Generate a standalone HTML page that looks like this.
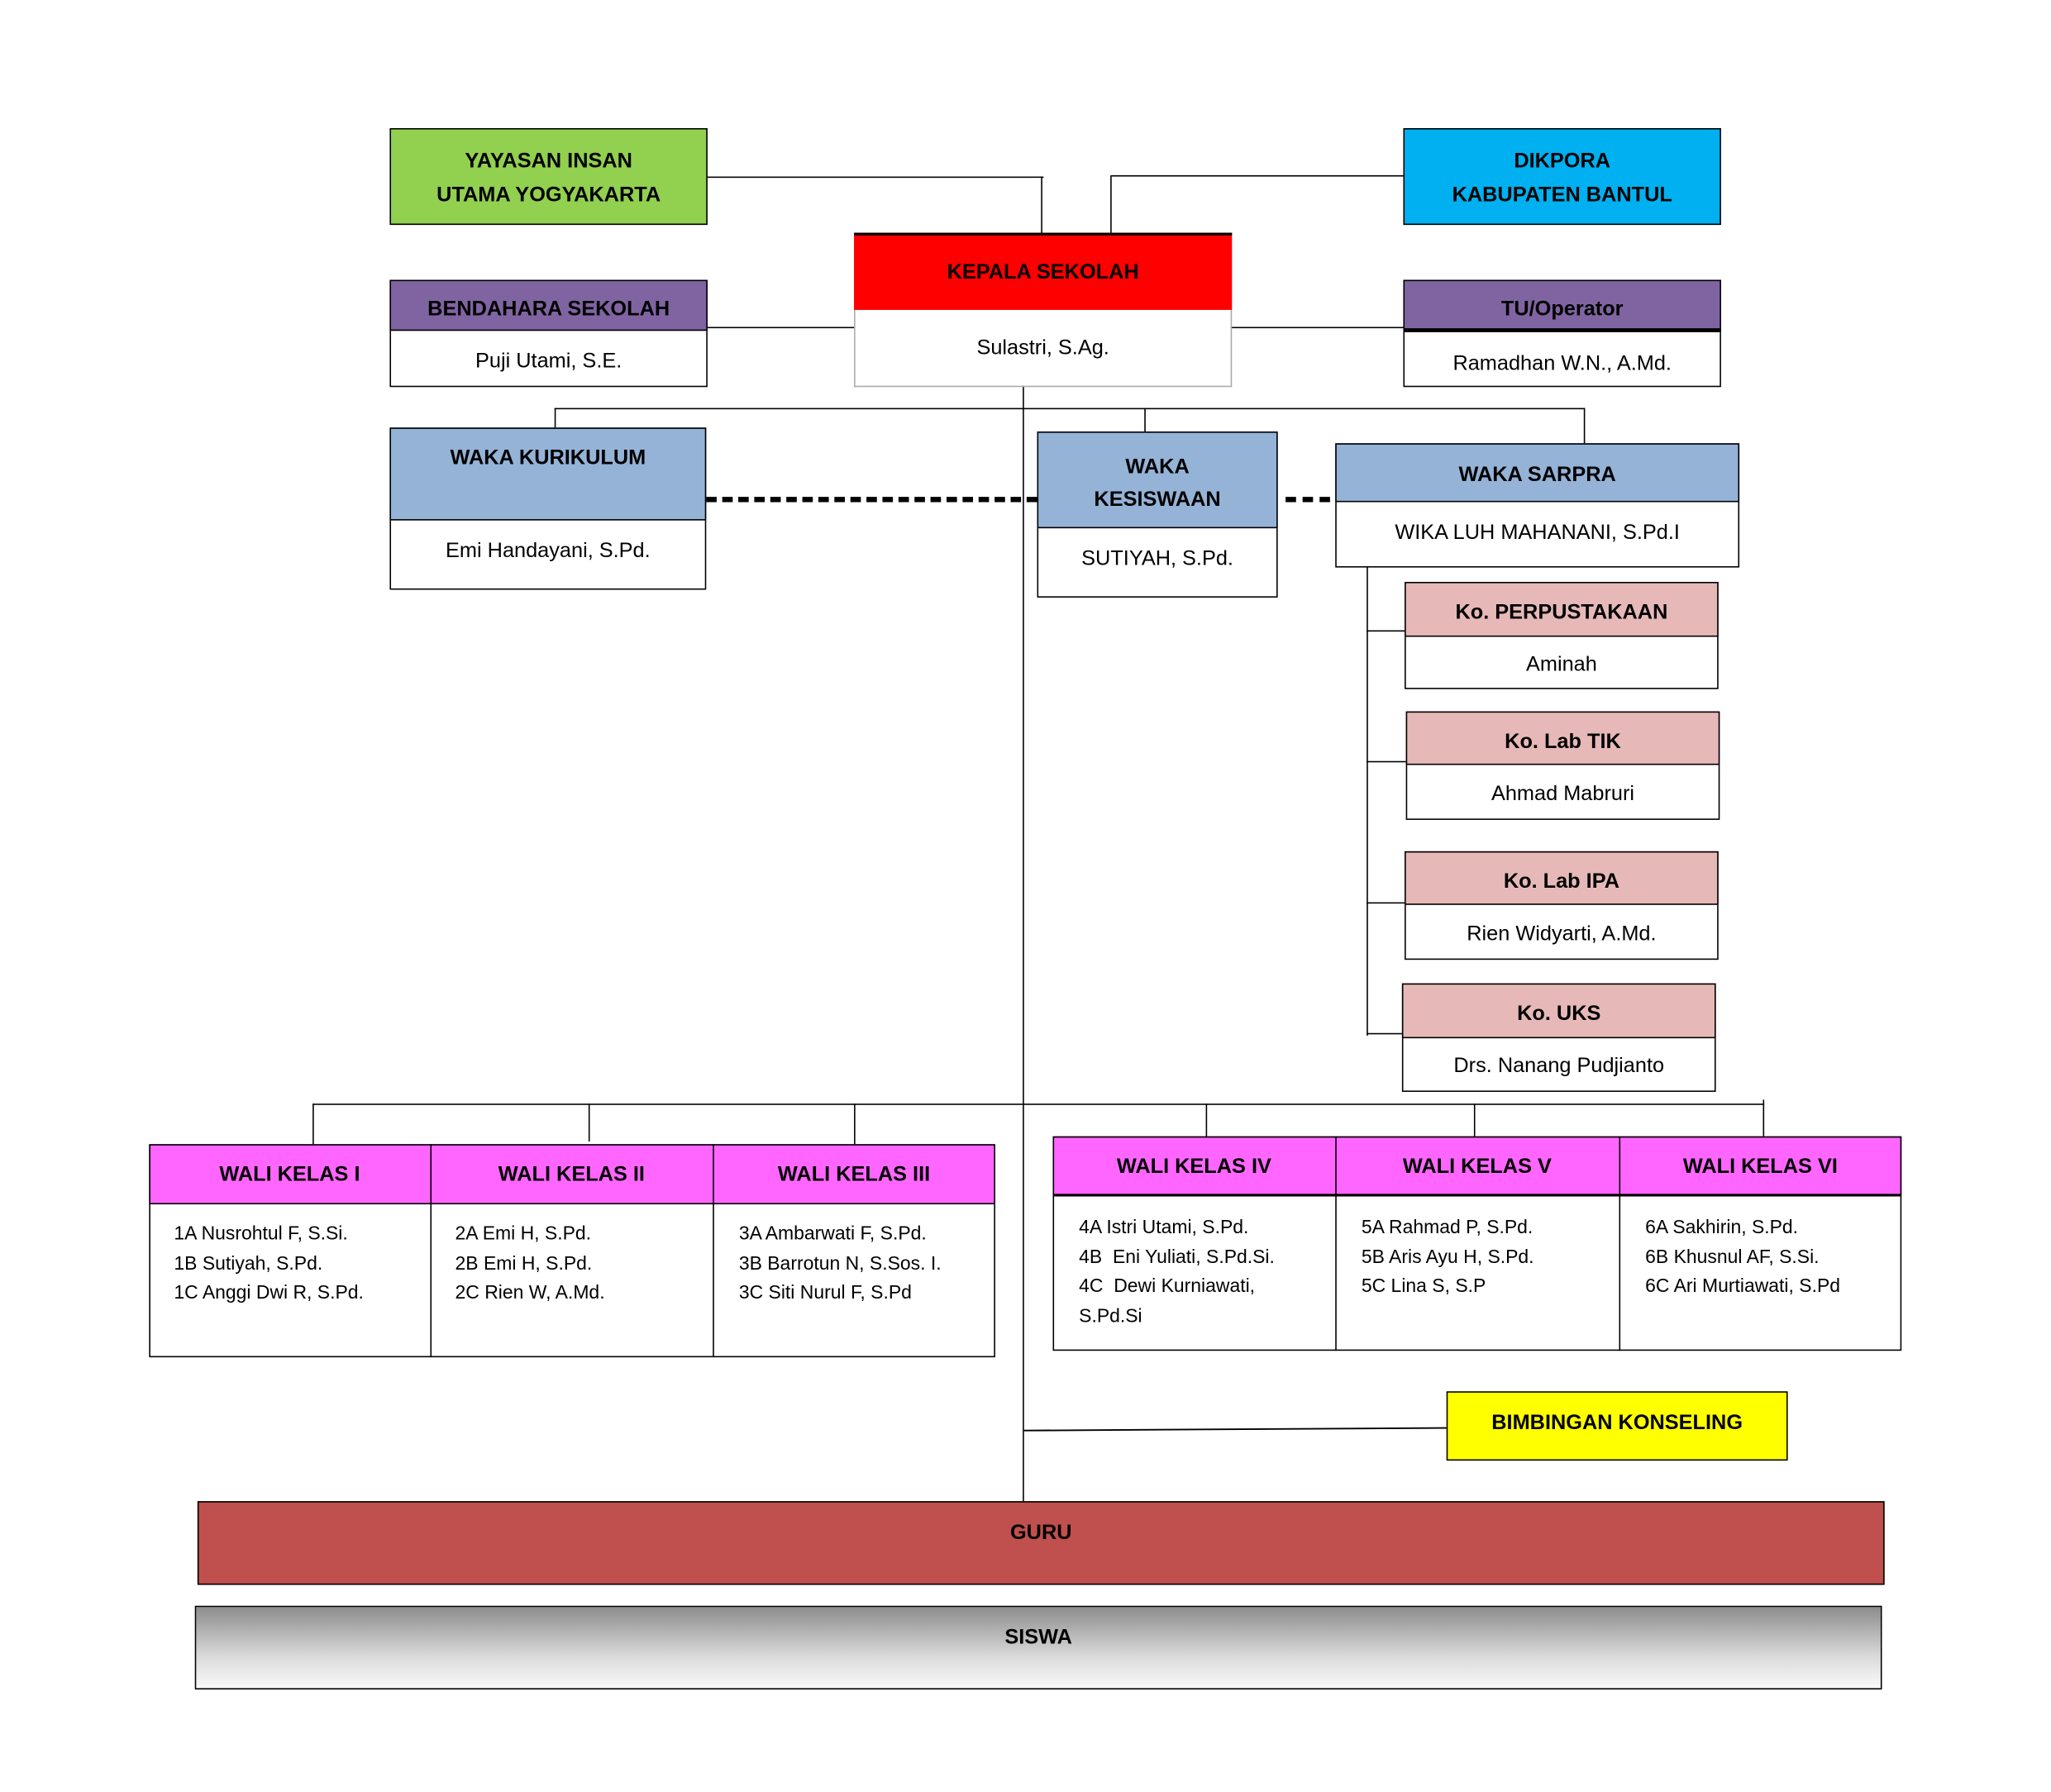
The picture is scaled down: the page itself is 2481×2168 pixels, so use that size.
<!DOCTYPE html>
<html><head><meta charset="utf-8"><style>
html,body{margin:0;padding:0;background:#fff;}
body{width:2481px;height:2168px;overflow:hidden;position:relative;}
#c{position:absolute;left:0;top:0;width:1570px;height:1370px;transform:scale(1.582);transform-origin:0 0;font-family:"Liberation Sans",sans-serif;}
.b{position:absolute;box-sizing:border-box;border:1.2px solid #000;}
.t{position:absolute;left:0;right:0;text-align:center;font-size:16px;color:#000;margin-top:2px;}
.bd{font-weight:bold;}
.l{position:absolute;background:#000;}
.wb{position:absolute;font-size:14.5px;line-height:22.5px;margin-top:2px;}
</style></head><body><div id="c">
<div class="l" style="left:540px;top:135px;width:258px;height:1.2px"></div>
<div class="l" style="left:796px;top:135px;width:1.2px;height:43px"></div>
<div class="l" style="left:850px;top:134px;width:223px;height:1.2px"></div>
<div class="l" style="left:849px;top:134px;width:1.2px;height:44px"></div>
<div class="l" style="left:541px;top:250px;width:112px;height:1.2px"></div>
<div class="l" style="left:941px;top:250px;width:132px;height:1.2px"></div>
<div class="l" style="left:782px;top:295px;width:1.2px;height:853px"></div>
<div class="l" style="left:424px;top:312px;width:788px;height:1.2px"></div>
<div class="l" style="left:424px;top:312px;width:1.2px;height:15px"></div>
<div class="l" style="left:875px;top:312px;width:1.2px;height:18px"></div>
<div class="l" style="left:1211px;top:312px;width:1.2px;height:27px"></div>
<div style="position:absolute;left:540px;top:380px;width:253px;border-top:4px dashed #000"></div>
<div style="position:absolute;left:983px;top:380px;width:34px;border-top:4px dashed #000"></div>
<div class="l" style="left:1045px;top:433px;width:1.2px;height:359px"></div>
<div class="l" style="left:1045px;top:482px;width:29px;height:1.2px"></div>
<div class="l" style="left:1045px;top:582px;width:30px;height:1.2px"></div>
<div class="l" style="left:1045px;top:690px;width:29px;height:1.2px"></div>
<div class="l" style="left:1045px;top:790px;width:27px;height:1.2px"></div>
<div class="l" style="left:239px;top:844px;width:1110px;height:1.2px"></div>
<div class="l" style="left:239px;top:844px;width:1.2px;height:31px"></div>
<div class="l" style="left:450px;top:844px;width:1.2px;height:29px"></div>
<div class="l" style="left:653px;top:844px;width:1.2px;height:31px"></div>
<div class="l" style="left:922px;top:844px;width:1.2px;height:25px"></div>
<div class="l" style="left:1127px;top:844px;width:1.2px;height:25px"></div>
<div class="l" style="left:1348px;top:841px;width:1.2px;height:28px"></div>
<svg style="position:absolute;left:0;top:0" width="1553" height="1357"><line x1="783" y1="1094" x2="1106" y2="1092" stroke="#000" stroke-width="1.2"/></svg>

<div class="b" style="left:298px;top:98px;width:243px;height:74px;background:#92d050"><div class="t bd" style="top:10px;line-height:26px">YAYASAN INSAN<br>UTAMA YOGYAKARTA</div></div>
<div class="b" style="left:1073px;top:98px;width:243px;height:74px;background:#00b0f0"><div class="t bd" style="top:10px;line-height:26px">DIKPORA<br>KABUPATEN BANTUL</div></div>
<div class="b" style="left:653px;top:178px;width:289px;height:118px;border-color:#aaa;border-top:2px solid #000"></div>
<div style="position:absolute;left:653px;top:178px;width:289px;height:59px;background:#ff0000;border-top:2px solid #000;box-sizing:border-box"><div class="t bd" style="top:18px">KEPALA SEKOLAH</div></div>
<div class="t" style="left:653px;width:289px;right:auto;top:256px">Sulastri, S.Ag.</div>

<div class="b" style="left:298px;top:214px;width:243px;height:82px"></div>
<div style="position:absolute;left:298px;top:214px;width:243px;height:39px;background:#8064a2;border:1.2px solid #000;box-sizing:border-box"><div class="t bd" style="top:11px">BENDAHARA SEKOLAH</div></div>
<div class="t" style="left:298px;width:243px;right:auto;top:266px">Puji Utami, S.E.</div>

<div class="b" style="left:1073px;top:214px;width:243px;height:82px"></div>
<div style="position:absolute;left:1073px;top:214px;width:243px;height:40px;background:#8064a2;border:1.2px solid #000;border-bottom:3px solid #000;box-sizing:border-box"><div class="t bd" style="top:11px">TU/Operator</div></div>
<div class="t" style="left:1073px;width:243px;right:auto;top:268px">Ramadhan W.N., A.Md.</div>

<div class="b" style="left:298px;top:327px;width:242px;height:124px"></div>
<div style="position:absolute;left:298px;top:327px;width:242px;height:71px;background:#95b3d7;border:1.2px solid #000;box-sizing:border-box"><div class="t bd" style="top:12px">WAKA KURIKULUM</div></div>
<div class="t" style="left:298px;width:242px;right:auto;top:411px">Emi Handayani, S.Pd.</div>

<div class="b" style="left:793px;top:330px;width:184px;height:127px"></div>
<div style="position:absolute;left:793px;top:330px;width:184px;height:74px;background:#95b3d7;border:1.2px solid #000;box-sizing:border-box"><div class="t bd" style="top:12px;line-height:25px">WAKA<br>KESISWAAN</div></div>
<div class="t" style="left:793px;width:184px;right:auto;top:417px">SUTIYAH, S.Pd.</div>

<div class="b" style="left:1021px;top:339px;width:309px;height:95px"></div>
<div style="position:absolute;left:1021px;top:339px;width:309px;height:45px;background:#95b3d7;border:1.2px solid #000;box-sizing:border-box"><div class="t bd" style="top:13px">WAKA SARPRA</div></div>
<div class="t" style="left:1021px;width:309px;right:auto;top:397px">WIKA LUH MAHANANI, S.Pd.I</div>

<div class="b" style="left:1074px;top:445px;width:240px;height:82px"></div>
<div style="position:absolute;left:1074px;top:445px;width:240px;height:42px;background:#e6b9b8;border:1.2px solid #000;box-sizing:border-box"><div class="t bd" style="top:12px">Ko. PERPUSTAKAAN</div></div>
<div class="t" style="left:1074px;width:240px;right:auto;top:498px">Aminah</div>

<div class="b" style="left:1075px;top:544px;width:240px;height:83px"></div>
<div style="position:absolute;left:1075px;top:544px;width:240px;height:41px;background:#e6b9b8;border:1.2px solid #000;box-sizing:border-box"><div class="t bd" style="top:12px">Ko. Lab TIK</div></div>
<div class="t" style="left:1075px;width:240px;right:auto;top:597px">Ahmad Mabruri</div>

<div class="b" style="left:1074px;top:651px;width:240px;height:83px"></div>
<div style="position:absolute;left:1074px;top:651px;width:240px;height:41px;background:#e6b9b8;border:1.2px solid #000;box-sizing:border-box"><div class="t bd" style="top:12px">Ko. Lab IPA</div></div>
<div class="t" style="left:1074px;width:240px;right:auto;top:704px">Rien Widyarti, A.Md.</div>

<div class="b" style="left:1072px;top:752px;width:240px;height:83px"></div>
<div style="position:absolute;left:1072px;top:752px;width:240px;height:42px;background:#e6b9b8;border:1.2px solid #000;box-sizing:border-box"><div class="t bd" style="top:12px">Ko. UKS</div></div>
<div class="t" style="left:1072px;width:240px;right:auto;top:805px">Drs. Nanang Pudjianto</div>

<div class="b" style="left:114px;top:875px;width:647px;height:163px"></div>
<div style="position:absolute;left:114px;top:875px;width:647px;height:46px;background:#ff66ff;border:1.2px solid #000;box-sizing:border-box"></div>
<div class="l" style="left:329px;top:875px;width:1.2px;height:163px"></div>
<div class="l" style="left:545px;top:875px;width:1.2px;height:163px"></div>
<div class="t bd" style="left:114px;width:215px;right:auto;top:888px">WALI KELAS I</div>
<div class="t bd" style="left:329px;width:216px;right:auto;top:888px">WALI KELAS II</div>
<div class="t bd" style="left:545px;width:216px;right:auto;top:888px">WALI KELAS III</div>
<div class="wb" style="left:133px;top:931px">1A Nusrohtul F, S.Si.<br>1B Sutiyah, S.Pd.<br>1C Anggi Dwi R, S.Pd.</div>
<div class="wb" style="left:348px;top:931px">2A Emi H, S.Pd.<br>2B Emi H, S.Pd.<br>2C Rien W, A.Md.</div>
<div class="wb" style="left:565px;top:931px">3A Ambarwati F, S.Pd.<br>3B Barrotun N, S.Sos. I.<br>3C Siti Nurul F, S.Pd</div>

<div class="b" style="left:805px;top:869px;width:649px;height:164px"></div>
<div style="position:absolute;left:805px;top:869px;width:649px;height:46px;background:#ff66ff;border:1.2px solid #000;border-bottom:2.5px solid #000;box-sizing:border-box"></div>
<div class="l" style="left:1021px;top:869px;width:1.2px;height:164px"></div>
<div class="l" style="left:1238px;top:869px;width:1.2px;height:164px"></div>
<div class="t bd" style="left:805px;width:216px;right:auto;top:882px">WALI KELAS IV</div>
<div class="t bd" style="left:1021px;width:217px;right:auto;top:882px">WALI KELAS V</div>
<div class="t bd" style="left:1238px;width:216px;right:auto;top:882px">WALI KELAS VI</div>
<div class="wb" style="left:825px;top:926px">4A Istri Utami, S.Pd.<br>4B&nbsp; Eni Yuliati, S.Pd.Si.<br>4C&nbsp; Dewi Kurniawati,<br>S.Pd.Si</div>
<div class="wb" style="left:1041px;top:926px">5A Rahmad P, S.Pd.<br>5B Aris Ayu H, S.Pd.<br>5C Lina S, S.P</div>
<div class="wb" style="left:1258px;top:926px">6A Sakhirin, S.Pd.<br>6B Khusnul AF, S.Si.<br>6C Ari Murtiawati, S.Pd</div>

<div class="b" style="left:1106px;top:1064px;width:261px;height:53px;background:#ffff00"><div class="t bd" style="top:13px">BIMBINGAN KONSELING</div></div>

<div class="b" style="left:151px;top:1148px;width:1290px;height:64px;background:#c0504d"><div class="t bd" style="top:13px">GURU</div></div>
<div class="b" style="left:149px;top:1228px;width:1290px;height:64px;background:linear-gradient(#8c8c8c,#d9d9d9 60%,#fafafa)"><div class="t bd" style="top:13px">SISWA</div></div>
</div></body></html>
